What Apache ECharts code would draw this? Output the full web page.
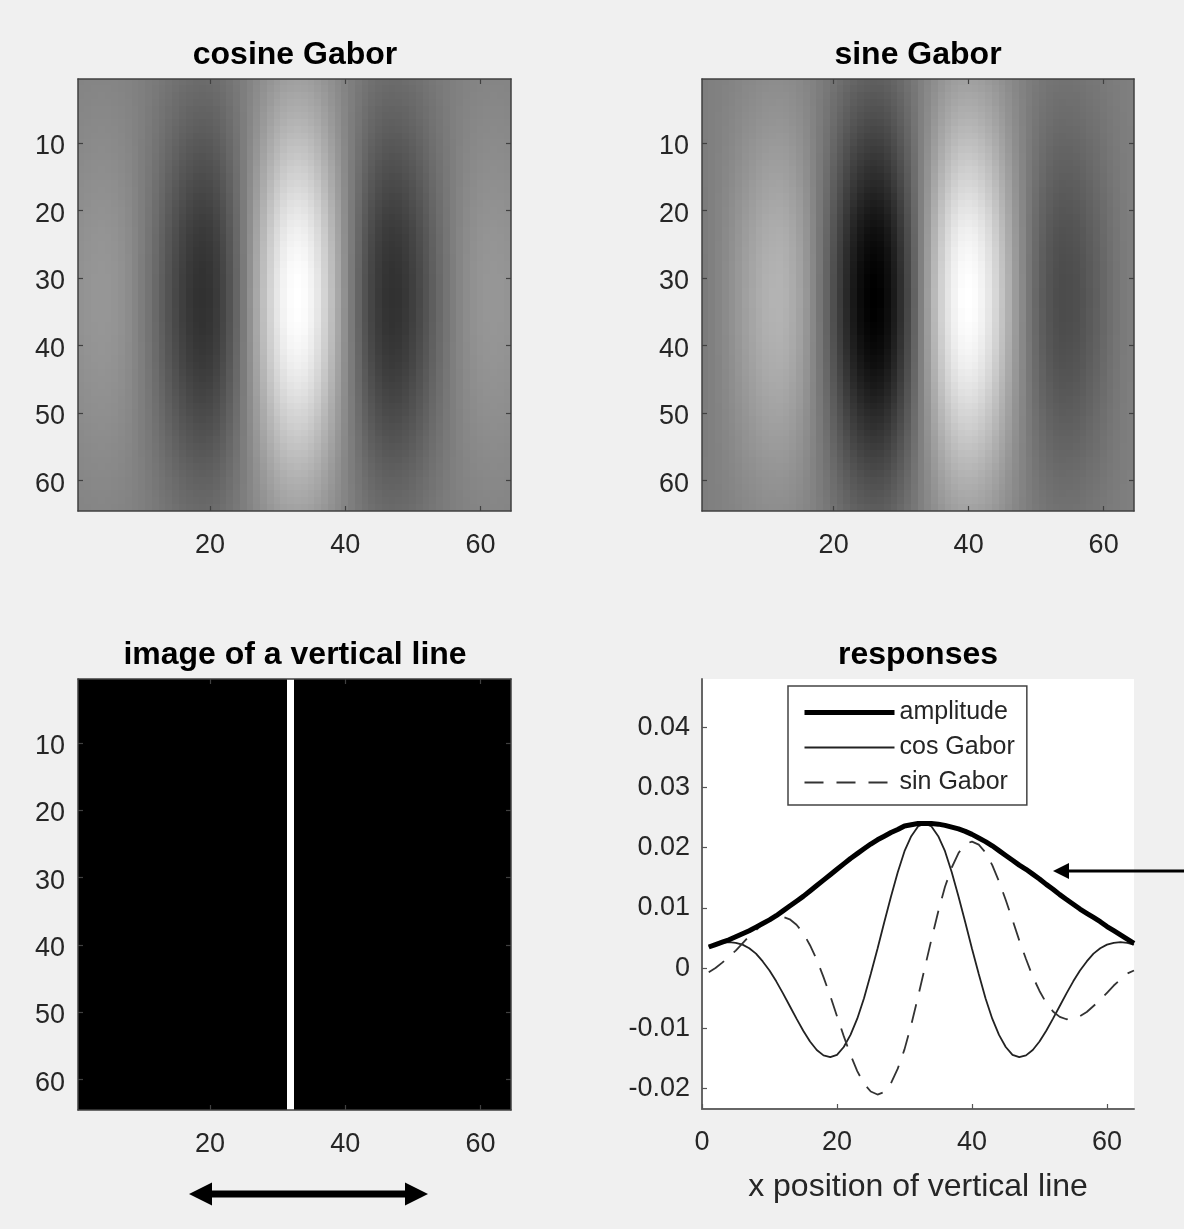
<!DOCTYPE html>
<html>
<head>
<meta charset="utf-8">
<title>Gabor filters and responses</title>
<script src="https://cdn.jsdelivr.net/npm/echarts@6/dist/echarts.min.js"></script>
<style>
  html, body { margin: 0; padding: 0; background: #f0f0f0; }
  #chart { width: 1184px; height: 1229px; }
</style>
</head>
<body>
<div id="chart"></div>
<script>
// Pixel columns / rows of the 64x64 images and line positions
const positions = [1,2,3,4,5,6,7,8,9,10,11,12,13,14,15,16,17,18,19,20,21,22,23,24,25,26,27,28,29,30,31,32,
  33,34,35,36,37,38,39,40,41,42,43,44,45,46,47,48,49,50,51,52,53,54,55,56,57,58,59,60,61,62,63,64];

// Response of the cosine Gabor to a vertical line at each x position
const cosResponse = [
  0.0035, 0.0039, 0.0042, 0.0043, 0.0042, 0.0039, 0.0033, 0.0024, 0.0011, -0.0004,
  -0.0022, -0.0042, -0.0063, -0.0084, -0.0104, -0.0122, -0.0136, -0.0145, -0.0148, -0.0144,
  -0.0131, -0.0111, -0.0084, -0.0050, -0.0010, 0.0032, 0.0076, 0.0119, 0.0159, 0.0194,
  0.0219, 0.0235, 0.0240, 0.0235, 0.0219, 0.0194, 0.0159, 0.0119, 0.0076, 0.0032,
  -0.0010, -0.0050, -0.0084, -0.0111, -0.0131, -0.0144, -0.0148, -0.0145, -0.0136, -0.0122,
  -0.0104, -0.0084, -0.0063, -0.0042, -0.0022, -0.0004, 0.0011, 0.0024, 0.0033, 0.0039,
  0.0042, 0.0043, 0.0042, 0.0039
];

// Response of the sine Gabor
const sinResponse = [
  -0.0007, 0.0000, 0.0009, 0.0019, 0.0029, 0.0041, 0.0053, 0.0063, 0.0073, 0.0080,
  0.0084, 0.0085, 0.0081, 0.0072, 0.0058, 0.0038, 0.0014, -0.0015, -0.0046, -0.0080,
  -0.0113, -0.0144, -0.0171, -0.0192, -0.0205, -0.0210, -0.0206, -0.0191, -0.0167, -0.0135,
  -0.0094, -0.0048, 0.0000, 0.0048, 0.0094, 0.0135, 0.0167, 0.0191, 0.0206, 0.0210,
  0.0205, 0.0192, 0.0171, 0.0144, 0.0113, 0.0080, 0.0046, 0.0015, -0.0014, -0.0038,
  -0.0058, -0.0072, -0.0081, -0.0085, -0.0084, -0.0080, -0.0073, -0.0063, -0.0053, -0.0041,
  -0.0029, -0.0019, -0.0009, -0.0004
];

// Amplitude (energy) of the quadrature pair
const amplitude = [
  0.0035, 0.0039, 0.0043, 0.0047, 0.0052, 0.0057, 0.0062, 0.0068, 0.0074, 0.0080,
  0.0087, 0.0095, 0.0103, 0.0111, 0.0119, 0.0128, 0.0137, 0.0146, 0.0155, 0.0164,
  0.0173, 0.0182, 0.0190, 0.0198, 0.0206, 0.0213, 0.0219, 0.0225, 0.0230, 0.0236,
  0.0238, 0.0240, 0.0240, 0.0240, 0.0239, 0.0237, 0.0234, 0.0231, 0.0227, 0.0222,
  0.0216, 0.0210, 0.0203, 0.0195, 0.0187, 0.0179, 0.0171, 0.0164, 0.0156, 0.0148,
  0.0139, 0.0131, 0.0122, 0.0114, 0.0106, 0.0098, 0.0091, 0.0084, 0.0077, 0.0069,
  0.0062, 0.0055, 0.0048, 0.0041
];

// Vertical envelope of the Gabor filters (row 1 at the top)
const verticalEnvelope = [
  0.26, 0.28, 0.31, 0.33, 0.36, 0.38, 0.41, 0.44, 0.47, 0.50,
  0.53, 0.56, 0.59, 0.62, 0.65, 0.68, 0.71, 0.74, 0.77, 0.80,
  0.83, 0.85, 0.88, 0.90, 0.92, 0.94, 0.95, 0.97, 0.98, 0.99,
  0.99, 1.00, 1.00, 1.00, 0.99, 0.99, 0.98, 0.97, 0.95, 0.94,
  0.92, 0.90, 0.88, 0.85, 0.83, 0.80, 0.77, 0.74, 0.71, 0.68,
  0.65, 0.62, 0.59, 0.56, 0.53, 0.50, 0.47, 0.44, 0.41, 0.38,
  0.36, 0.33, 0.31, 0.28
];

// Column holding the bright vertical line in the test image
const lineColumn = 32;

// Tick labels
const imageXTicks = [20, 40, 60];
const imageYTicks = [10, 20, 30, 40, 50, 60];
const responseXTicks = [0, 20, 40, 60];
const responseYTicks = [-0.02, -0.01, 0, 0.01, 0.02, 0.03, 0.04];

const FONT = '"Liberation Sans", Arial, Helvetica, sans-serif';
const TEXT = '#262626';
const AXIS = '#404040';
const TICK_FONT = 27;

// Each Gabor image: the horizontal profile scaled by the vertical envelope
function gaborCells(profile) {
  const cells = [];
  verticalEnvelope.forEach((e, yi) => {
    profile.forEach((p, xi) => cells.push([xi, yi, p * e]));
  });
  return cells;
}
function lineImageCells() {
  const cells = [];
  verticalEnvelope.forEach((e, yi) => {
    positions.forEach((x, xi) => cells.push([xi, yi, x === lineColumn ? 1 : 0]));
  });
  return cells;
}
const peak = arr => Math.max(...arr.map(Math.abs));

const cats = positions.map(String);
const showX = (i, v) => imageXTicks.includes(+v);
const showY = (i, v) => imageYTicks.includes(+v);

function imageAxes(grid) {
  const common = {
    type: 'category', data: cats, gridIndex: grid, z: 5,
    axisLine: { show: true, lineStyle: { color: AXIS, width: 1.5 } },
    splitLine: { show: false }
  };
  const tick = fn => ({ show: true, inside: true, length: 5, alignWithLabel: true, interval: fn,
    lineStyle: { color: AXIS, width: 1.2 } });
  return {
    x: [
      Object.assign({}, common, { position: 'bottom', axisTick: tick(showX),
        axisLabel: { interval: showX, margin: 21, fontSize: TICK_FONT, color: TEXT, fontFamily: FONT } }),
      Object.assign({}, common, { position: 'top', axisTick: tick(showX), axisLabel: { show: false } })
    ],
    y: [
      // labels sit a few pixels below their ticks
      Object.assign({}, common, { position: 'left', inverse: true, axisTick: tick(showY),
        axisLabel: { interval: showY, margin: 13, fontSize: TICK_FONT, color: TEXT, fontFamily: FONT,
          verticalAlign: 'top', lineHeight: 7 } }),
      Object.assign({}, common, { position: 'right', inverse: true, axisTick: tick(showY), axisLabel: { show: false } })
    ]
  };
}

const a0 = imageAxes(0), a1 = imageAxes(1), a2 = imageAxes(2);

const grids = [
  { left: 78, top: 79, width: 433, height: 432 },
  { left: 702, top: 79, width: 432, height: 432 },
  { left: 78, top: 679, width: 433, height: 431 },
  { left: 702, top: 679, width: 432, height: 430, show: true, backgroundColor: '#ffffff', borderWidth: 0 }
].map(g => Object.assign({ outerBoundsMode: 'none', containLabel: false }, g));

const titleStyle = { fontSize: 32, fontWeight: 'bold', color: '#000', fontFamily: FONT };
const titles = [
  { text: 'cosine Gabor', left: 295, top: 39 },
  { text: 'sine Gabor', left: 918, top: 39 },
  { text: 'image of a vertical line', left: 295, top: 639 },
  { text: 'responses', left: 918, top: 639 }
].map(t => Object.assign({ textAlign: 'center', padding: 0, textStyle: titleStyle }, t));

const responseXAxis = {
  type: 'value', gridIndex: 3, min: 0, max: 64, interval: 20, z: 5,
  axisLine: { show: true, onZero: false, lineStyle: { color: '#666', width: 2 } },
  axisTick: { show: true, inside: true, length: 5, customValues: responseXTicks, lineStyle: { color: '#555', width: 1.2 } },
  axisLabel: { customValues: responseXTicks, margin: 20, fontSize: TICK_FONT, color: TEXT, fontFamily: FONT },
  splitLine: { show: false },
  name: 'x position of vertical line', nameLocation: 'middle', nameGap: 62,
  nameTextStyle: { fontSize: 32, color: TEXT, fontFamily: FONT }
};
const responseYAxis = {
  type: 'value', gridIndex: 3, min: -0.0234, max: 0.048, z: 5,
  axisLine: { show: true, onZero: false, lineStyle: { color: '#666', width: 2 } },
  axisTick: { show: true, inside: true, length: 5, customValues: responseYTicks, lineStyle: { color: '#555', width: 1.2 } },
  axisLabel: { customValues: responseYTicks, margin: 12, fontSize: TICK_FONT, color: TEXT, fontFamily: FONT,
    formatter: v => String(+v.toFixed(2)) },
  splitLine: { show: false }
};

// Image cells: one rectangle per pixel, snapped outward to whole pixels so
// neighbouring cells overlap slightly instead of leaving hairline seams.
function renderPixel(params, api) {
  const c = api.coord([api.value(0), api.value(1)]);
  const s = api.size([1, 1]);
  const x0 = Math.floor(c[0] - s[0] / 2), y0 = Math.floor(c[1] - s[1] / 2);
  const x1 = Math.ceil(c[0] + s[0] / 2), y1 = Math.ceil(c[1] + s[1] / 2);
  return { type: 'rect', shape: { x: x0, y: y0, width: x1 - x0, height: y1 - y0 },
    style: { fill: api.visual('color') } };
}
const image = (name, xi, cells) => ({
  name, type: 'custom', coordinateSystem: 'cartesian2d', xAxisIndex: xi, yAxisIndex: xi,
  data: cells, encode: { x: 0, y: 1 }, renderItem: renderPixel, progressive: 0, silent: true, z: 1
});

const pairs = arr => positions.map((x, i) => [x, arr[i]]);
const gray = { color: ['#000000', '#ffffff'] };

const option = {
  backgroundColor: '#f0f0f0',
  animation: false,
  title: titles,
  grid: grids,
  xAxis: [a0.x[0], a0.x[1], a1.x[0], a1.x[1], a2.x[0], a2.x[1], responseXAxis],
  yAxis: [a0.y[0], a0.y[1], a1.y[0], a1.y[1], a2.y[0], a2.y[1], responseYAxis],
  visualMap: [
    { type: 'continuous', show: false, seriesIndex: 0, dimension: 2, min: -peak(cosResponse), max: peak(cosResponse), inRange: gray },
    { type: 'continuous', show: false, seriesIndex: 1, dimension: 2, min: -peak(sinResponse), max: peak(sinResponse), inRange: gray },
    { type: 'continuous', show: false, seriesIndex: 2, dimension: 2, min: 0, max: 1, inRange: gray }
  ],
  legend: {
    orient: 'vertical', left: 788, top: 686,
    backgroundColor: '#ffffff', borderColor: '#444', borderWidth: 1.5, borderRadius: 0,
    padding: [14, 12, 10, 14], itemWidth: 90, itemHeight: 20, itemGap: 10,
    itemStyle: { opacity: 0 },
    lineStyle: { width: 'inherit' },
    textStyle: { fontSize: 25, lineHeight: 25, color: TEXT, fontFamily: FONT },
    data: ['amplitude', 'cos Gabor', 'sin Gabor'],
    selectedMode: false
  },
  series: [
    image('cosine Gabor', 0, gaborCells(cosResponse)),
    image('sine Gabor', 2, gaborCells(sinResponse)),
    image('image of a vertical line', 4, lineImageCells()),
    { name: 'amplitude', type: 'line', xAxisIndex: 6, yAxisIndex: 6, data: pairs(amplitude),
      symbol: 'none', lineStyle: { color: '#000', width: 5 }, itemStyle: { color: '#000' }, z: 4 },
    { name: 'cos Gabor', type: 'line', xAxisIndex: 6, yAxisIndex: 6, data: pairs(cosResponse),
      symbol: 'none', lineStyle: { color: '#222', width: 1.8 }, itemStyle: { color: '#222' }, z: 3 },
    { name: 'sin Gabor', type: 'line', xAxisIndex: 6, yAxisIndex: 6, data: pairs(sinResponse),
      symbol: 'none', lineStyle: { color: '#333', width: 1.8, type: [19, 13] }, itemStyle: { color: '#333' }, z: 3 }
  ],
  graphic: [
    // double-headed arrow under the line image
    { type: 'polygon', silent: true, shape: { points: [
        [189, 1194], [212, 1182.5], [212, 1190.5], [405, 1190.5], [405, 1182.5],
        [428, 1194], [405, 1205.5], [405, 1197.5], [212, 1197.5], [212, 1205.5]] },
      style: { fill: '#000' } },
    // arrow pointing at the amplitude curve
    { type: 'line', silent: true, shape: { x1: 1066, y1: 871, x2: 1184, y2: 871 },
      style: { stroke: '#000', lineWidth: 3 } },
    { type: 'polygon', silent: true, shape: { points: [[1053, 871], [1069, 863], [1069, 879]] },
      style: { fill: '#000' } }
  ]
};

const chart = echarts.init(document.getElementById('chart'), null, { renderer: 'canvas' });
chart.setOption(option);
</script>
</body>
</html>
